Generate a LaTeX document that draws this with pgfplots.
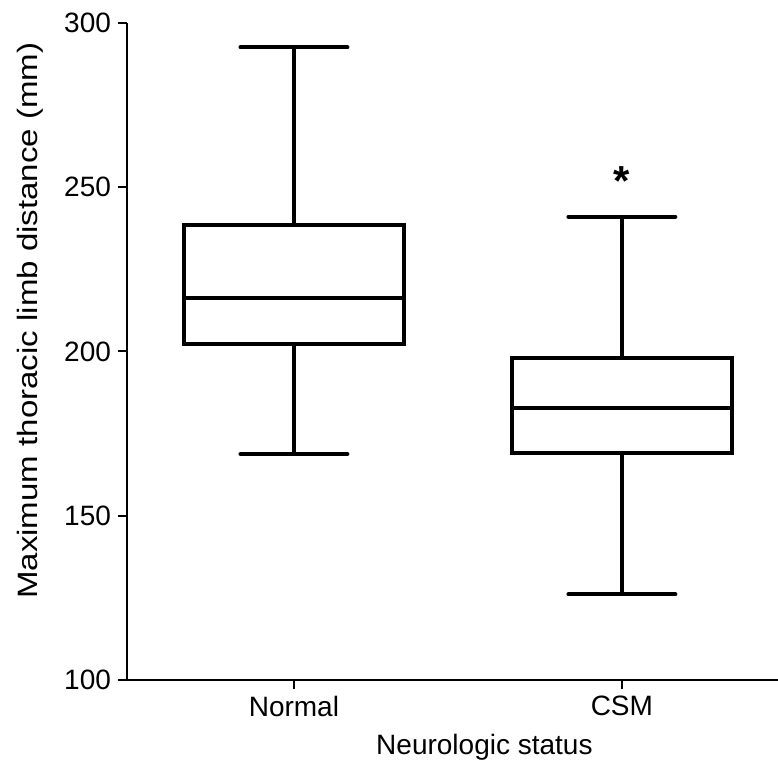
\documentclass[border=0pt]{standalone}
\usepackage{fontspec}
\setmainfont{Liberation Sans}
\usepackage{pgfplots}
\pgfplotsset{compat=1.18}

\begin{document}
\begin{tikzpicture}
\useasboundingbox (-63.5bp,-45.5bp) rectangle (325.5bp,340bp);
\begin{axis}[
  scale only axis, width=325.5bp, height=328.5bp,
  xmin=-0.509, xmax=1.476, ymin=100, ymax=300,
  axis x line=bottom, axis y line=left,
  axis line style={-, line width=1bp},
  xtick={0,1}, xticklabels={Normal, CSM},
  ytick={100,150,...,300},
  tick align=outside, major tick length=4.5bp,
  tick style={line width=1bp, black},
  /pgf/number format/assume math mode=true,
  tick label style={font=\fontsize{14bp}{16.5bp}\selectfont},
  label style={font=\fontsize{14bp}{16.5bp}\selectfont},
  xlabel={Neurologic status},
  ylabel={\scalebox{1.18}[1]{Maximum thoracic limb distance (mm)}},
  xlabel style={at={(axis description cs:0.549,-0.103)}, anchor=center},
  ylabel style={at={(axis description cs:-0.148,0.547)}, anchor=center},
  clip=false,
  bx/.style={black, solid, line width=2bp, mark=none},
]
% Normal: whiskers 168.8 / 292.6, quartiles 202.3 / 238.5, median 216.3
\addplot[bx, line join=miter] coordinates {(-0.335,202.3) (0.335,202.3) (0.335,238.5) (-0.335,238.5)} --cycle;
\addplot[bx] coordinates {(-0.335,216.3) (0.335,216.3)};
\addplot[bx] coordinates {(0,238.5) (0,292.6)};
\addplot[bx] coordinates {(0,202.3) (0,168.8)};
\addplot[bx, line cap=round] coordinates {(-0.163,292.6) (0.163,292.6)};
\addplot[bx, line cap=round] coordinates {(-0.163,168.8) (0.163,168.8)};
% CSM: whiskers 126.1 / 241, quartiles 169.2 / 197.9, median 182.9
\addplot[bx, line join=miter] coordinates {(0.665,169.2) (1.335,169.2) (1.335,197.9) (0.665,197.9)} --cycle;
\addplot[bx] coordinates {(0.665,182.9) (1.335,182.9)};
\addplot[bx] coordinates {(1,197.9) (1,241)};
\addplot[bx] coordinates {(1,169.2) (1,126.1)};
\addplot[bx, line cap=round] coordinates {(0.837,241) (1.163,241)};
\addplot[bx, line cap=round] coordinates {(0.837,126.1) (1.163,126.1)};
\node[font=\bfseries\fontsize{21bp}{23bp}\selectfont] at (axis cs:1,252) {*};
\end{axis}
\end{tikzpicture}
\end{document}
